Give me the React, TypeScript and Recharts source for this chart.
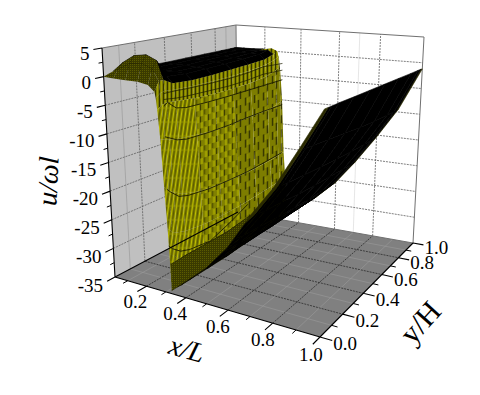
import { Scatter, ScatterChart, XAxis, YAxis } from 'recharts';

// tick values of the three axes
const xTicks = [0.2, 0.4, 0.6, 0.8, 1.0];
const xMinorTicks = [0.1, 0.3, 0.5, 0.7, 0.9];
const yTicks = [0.0, 0.2, 0.4, 0.6, 0.8, 1.0];
const yMinorTicks = [0.1, 0.3, 0.5, 0.7, 0.9];
const uTicks = [5, 0, -5, -10, -15, -20, -25, -30, -35];
const uMinorTicks = [2.5, -2.5, -7.5, -12.5, -17.5, -22.5, -27.5, -32.5];
const xMin = 0.03;

// surface stations
const surfaceY = [0, 0.03, 0.06, 0.12, 0.25, 0.4, 0.55, 0.7, 0.85, 0.94, 0.98, 1];
const surfaceX = [
  0.03, 0.08, 0.14, 0.2, 0.25, 0.28, 0.285, 0.29, 0.3, 0.31, 0.32, 0.325, 0.33,
  0.335, 0.4, 0.5, 0.6, 0.7, 0.8, 0.9, 1.0,
];
const uX03 = [0, 0.3, 0.6, 0.4, 0.3, 0.2, 0.2, 0.2, 0.2, 0.2, 0.2, 0.2];
const uX08 = [0, 1.4, 2.4, 0.8, 0.3, 0.2, 0.2, 0.2, 0.2, 0.2, 0.2, 0.2];
const uX14 = [0.1, 2.8, 4, 0.8, 0.3, 0.2, 0.2, 0.2, 0.2, 0.2, 0.2, 0.2];
const uX20 = [0.2, 3.2, 4.5, 1, 0.3, 0.2, 0.2, 0.2, 0.2, 0.3, 0.4, 0.3];
const uX25 = [0, 2.6, 3.8, 0.6, 0.2, 0.1, 0.1, 0.1, 0.2, 0.5, 0.7, 0.2];
const uX28 = [-1, 0.6, 0.6, -0.4, -0.8, -0.9, -0.9, -0.9, -0.8, -0.2, 0.2, -1.5];
const uX285 = [-2, -1.4, -1.2, -1.5, -1.8, -2, -2.1, -2.1, -1.9, -1.4, -1, -3];
const uX29 = [-4, -3.4, -3.2, -3.5, -4, -4.3, -4.5, -4.5, -4.2, -3.6, -3.2, -5];
const uX30 = [-9, -9.2, -9.6, -10, -10.5, -11, -11, -11, -11, -10.6, -10.2, -10.8];
const uX31 = [-17, -18, -18.6, -19.6, -20.6, -21, -21.3, -21.4, -21.2, -21, -20.8, -21];
const uX32 = [-24, -25, -25.5, -26, -26.6, -26.8, -26.8, -26.6, -26.4, -26.2, -26, -26];
const uX325 = [-28.4, -29, -30, -30.4, -30.6, -30.6, -30.2, -29.8, -29.6, -29.6, -29.6, -29.6];
const uX33 = [-33, -33.4, -33.6, -33.6, -33.6, -33.6, -33.4, -33.2, -33, -33, -33, -33];
const uX335 = [-30, -34.3, -34.4, -34.4, -34.4, -34.4, -34.2, -34, -33.8, -33.8, -33.8, -33.8];
const uX40 = [-27.9, -31.5, -32, -32.1, -32.2, -32.2, -32.2, -32.2, -32.1, -32, -32, -32];
const uX50 = [-25, -27, -28, -28.2, -28.4, -28.6, -28.8, -29, -29, -29, -29, -29];
const uX60 = [-22, -23, -24, -24.3, -24.6, -25, -25.2, -25.4, -25.5, -25.5, -25.5, -25.5];
const uX70 = [-18.5, -18.8, -19, -19.2, -19.5, -20, -20.3, -20.5, -20.7, -20.8, -20.8, -20.8];
const uX80 = [-13, -13.2, -13.4, -13.6, -14, -14.4, -14.8, -15.1, -15.3, -15.4, -15.4, -15.4];
const uX90 = [-6, -6.2, -6.4, -6.6, -7.2, -7.8, -8.4, -8.9, -9.2, -9.4, -9.4, -9.4];
const uX100 = [1.5, 1.4, 1.3, 1.2, 0.8, 0.4, 0, -0.4, -0.8, -1, -1.1, -1.2];
const surfaceU = [
  uX03, uX08, uX14, uX20, uX25, uX28, uX285, uX29, uX30, uX31, uX32, uX325, uX33,
  uX335, uX40, uX50, uX60, uX70, uX80, uX90, uX100,
];

// olive skirt along the y = 0 edge, below the sheet
const skirtX = [0.33, 0.4, 0.5, 0.6, 0.7];
const skirtTop = [-30, -27.9, -25, -22, -18.4];
const skirtBottom = [-34.5, -32.3, -29, -24.6, -18.6];

// dark lines of constant x across the cliff and its rim
const contourY = [0.03, 0.055, 0.11, 0.175, 0.33, 0.5, 0.65, 0.8, 1];
const rimA = [-1.4, -1.4, -1.5, -1.7, -2, -2.2, -2.2, -1.9, -2.4];
const rimB = [-2.4, -2.5, -2.8, -3, -3.3, -3.6, -3.6, -3.4, -3.8];
const contourA = [-3.5, -3.1, -4.5, -5, -5.3, -5.5, -5.6, -5.7, -5.8];
const contourB = [-8.8, -9.2, -10.1, -10.6, -10.9, -11, -10.9, -10.9, -11];
const contourC = [-17.8, -18.6, -20, -20.6, -21.2, -21.4, -21.5, -21.3, -21];
const contourD = [-27.6, -28.4, -29.6, -30.2, -30.8, -29.4, -27.9];

const CUBE = {
  a000: [115, 277], a001: [102, 48],
  a100: [320, 337], a101: [325, 87],
  a010: [238, 212], a011: [236, 25],
  a110: [413, 243], a111: [424, 37],
};

const lerp = (a: number, b: number, t: number) => a + (b - a) * t;

function project(x: number, y: number, u: number) {
  const s = (x - xMin) / (1 - xMin);
  const sw = s * (0.85 + 0.15 * s);
  const t = y * (1 + 0.27 * (1 - y));
  const w = (u + 35) / 40;
  const axis = (i: number) => {
    const f0 = lerp(lerp(CUBE.a000[i], CUBE.a100[i], sw), lerp(CUBE.a010[i], CUBE.a110[i], sw), t);
    const f1 = lerp(lerp(CUBE.a001[i], CUBE.a101[i], sw), lerp(CUBE.a011[i], CUBE.a111[i], sw), t);
    return lerp(f0, f1, w);
  };
  return { px: axis(0), py: axis(1) };
}

type Pt = [number, number, number];
const toRows = (pts: Pt[]) => pts.map(([x, y, u]) => project(x, y, u));
const noDot = () => <g />;

const segPath = (points: { x: number; y: number }[]) => {
  let d = '';
  for (let i = 0; i + 1 < points.length; i += 2) {
    d += `M${points[i].x} ${points[i].y}L${points[i + 1].x} ${points[i + 1].y}`;
  }
  return d;
};

function Poly({ pts, fill = 'none', stroke = 'none', width = 1 }: { pts: Pt[]; fill?: string; stroke?: string; width?: number }) {
  return (
    <Scatter
      data={toRows(pts)}
      isAnimationActive={false}
      shape={noDot}
      line={{ fill, stroke, strokeWidth: width }}
    />
  );
}

function Segs({ pts, stroke, width = 1, dash }: { pts: Pt[]; stroke: string; width?: number; dash?: string }) {
  return (
    <Scatter
      data={toRows(pts)}
      isAnimationActive={false}
      shape={noDot}
      line={(p: any) => (
        <path d={segPath(p.points)} fill="none" stroke={stroke} strokeWidth={width} strokeDasharray={dash} />
      )}
    />
  );
}

function cellFill(x: number, y: number) {
  if (x < 0.28) {
    if (y < 0.06) return 'url(#oliveMesh)';
    if (y >= 0.94 && x >= 0.2) return 'url(#rimMesh)';
    return '#000';
  }
  if (x < 0.29) return 'url(#rimMesh)';
  if (x < 0.335) {
    if (y < 0.25) return 'url(#stripeYellow)';
    if (y < 0.55) return 'url(#stripeMix)';
    return 'url(#stripeDark)';
  }
  if (y < 0.03 || y >= 0.98) return '#2a2a00';
  return '#000';
}

const surfaceRows = surfaceX.flatMap((x, i) => surfaceY.map((y, j) => project(x, y, surfaceU[i][j])));

function renderSurface(p: any) {
  const pts = p.points;
  const ny = surfaceY.length;
  const cells = [];
  for (let i = 0; i < surfaceX.length - 1; i++) {
    for (let j = ny - 2; j >= 0; j--) {
      const a = pts[i * ny + j];
      const b = pts[i * ny + j + 1];
      const c = pts[(i + 1) * ny + j + 1];
      const d = pts[(i + 1) * ny + j];
      const fill = cellFill(surfaceX[i], surfaceY[j]);
      cells.push(
        <path
          key={`${i}-${j}`}
          d={`M${a.x} ${a.y}L${b.x} ${b.y}L${c.x} ${c.y}L${d.x} ${d.y}Z`}
          fill={fill}
          stroke={fill.startsWith('#') ? fill : 'none'}
          strokeWidth={0.6}
        />,
      );
    }
  }
  return (
    <g>
      <defs>
        <pattern id="oliveMesh" width="2" height="2" patternUnits="userSpaceOnUse">
          <rect width="2" height="2" fill="#3a3a00" />
          <rect width="1" height="1" fill="#5a5a00" />
        </pattern>
        <pattern id="rimMesh" width="4" height="5" patternUnits="userSpaceOnUse" patternTransform="skewY(-16)">
          <rect width="4" height="5" fill="#7c7c00" />
          <rect x="1" width="1" height="5" fill="#b0b000" />
          <rect x="3" width="1" height="5" fill="#2c2c00" />
        </pattern>
        <pattern id="stripeYellow" width="4" height="14" patternUnits="userSpaceOnUse" patternTransform="skewX(-8)">
          <rect width="4" height="14" fill="#7e7e00" />
          <rect x="1" width="0.8" height="14" fill="#d0d000" />
          <rect x="3" width="0.8" height="14" fill="#505000" />
          <rect y="9" width="4" height="2" fill="#a0a000" opacity="0.5" />
        </pattern>
        <pattern id="stripeMix" width="8" height="12" patternUnits="userSpaceOnUse" patternTransform="skewY(-16)">
          <rect width="8" height="12" fill="#808000" />
          <rect x="1" width="2" height="6" fill="#a4a400" />
          <rect x="5" y="6" width="2" height="6" fill="#a4a400" />
          <rect x="4" width="1" height="5" fill="#3a3a00" />
          <rect y="6" width="1" height="6" fill="#3a3a00" />
        </pattern>
        <pattern id="stripeDark" width="9" height="14" patternUnits="userSpaceOnUse" patternTransform="skewY(-16)">
          <rect width="9" height="14" fill="#7d7d00" />
          <rect x="2" width="1" height="8" fill="#141400" />
          <rect x="6" y="6" width="1" height="8" fill="#141400" />
          <rect x="4" y="1" width="1" height="5" fill="#9c9c00" />
        </pattern>
      </defs>
      {cells}
    </g>
  );
}

function TickLabels({ pts, labels, anchor, dx, dy }: { pts: Pt[]; labels: string[]; anchor: string; dx: number; dy: number }) {
  const rows = toRows(pts).map((r, i) => ({ ...r, label: labels[i] }));
  return (
    <Scatter
      data={rows}
      isAnimationActive={false}
      shape={(p: any) => (
        <text
          x={p.cx + dx}
          y={p.cy + dy}
          textAnchor={anchor as any}
          dominantBaseline="central"
          fontFamily="Liberation Serif"
          fontSize={19}
          fill="#000"
        >
          {p.payload.label}
        </text>
      )}
    />
  );
}

function Title({ px, py, text, rotate, italic, size }: { px: number; py: number; text: string; rotate: number; italic: boolean; size: number }) {
  return (
    <Scatter
      data={[{ px, py }]}
      isAnimationActive={false}
      shape={(p: any) => (
        <text
          x={p.cx}
          y={p.cy}
          textAnchor="middle"
          dominantBaseline="central"
          fontFamily="Liberation Serif"
          fontStyle={italic ? 'italic' : 'normal'}
          fontSize={size}
          fill="#000"
          transform={`rotate(${rotate} ${p.cx} ${p.cy})`}
        >
          {text}
        </text>
      )}
    />
  );
}

export default function App() {
  const top = 5;
  const bot = -35;
  const gridUOnLeft: Pt[] = uTicks.slice(1, -1).flatMap((u) => [[xMin, 0, u], [xMin, 1, u]] as Pt[]);
  const gridUOnRight: Pt[] = uTicks.slice(1, -1).flatMap((u) => [[xMin, 1, u], [1, 1, u]] as Pt[]);
  const gridYOnLeft: Pt[] = yTicks.slice(1, -1).flatMap((y) => [[xMin, y, bot], [xMin, y, top]] as Pt[]);
  const gridXOnRight: Pt[] = xTicks.slice(0, -1).flatMap((x) => [[x, 1, bot], [x, 1, top]] as Pt[]);
  const gridXFloor: Pt[] = xTicks.slice(0, -1).flatMap((x) => [[x, 0, bot], [x, 1, bot]] as Pt[]);
  const gridYFloor: Pt[] = yTicks.slice(1, -1).flatMap((y) => [[xMin, y, bot], [1, y, bot]] as Pt[]);
  const faintLeft: Pt[] = [0.1, 0.9].flatMap((y) => [[xMin, y, bot], [xMin, y, top]] as Pt[]);
  const faintRight: Pt[] = [[0.7, 1, bot], [0.7, 1, top]];
  const faintFloor: Pt[] = [
    ...xMinorTicks.flatMap((x) => [[x, 0, bot], [x, 1, bot]] as Pt[]),
    ...yMinorTicks.flatMap((y) => [[xMin, y, bot], [1, y, bot]] as Pt[]),
  ];

  const xMajor: Pt[] = xTicks.flatMap((x) => [[x, 0, bot], [x, -0.06, bot]] as Pt[]);
  const xMinor: Pt[] = xMinorTicks.flatMap((x) => [[x, 0, bot], [x, -0.03, bot]] as Pt[]);
  const yMajor: Pt[] = yTicks.flatMap((y) => [[1, y, bot], [1.05, y, bot]] as Pt[]);
  const yMinor: Pt[] = yMinorTicks.flatMap((y) => [[1, y, bot], [1.025, y, bot]] as Pt[]);
  const uMajor: Pt[] = uTicks.flatMap((u) => [[xMin, 0, u], [xMin, -0.05, u]] as Pt[]);
  const uMinor: Pt[] = uMinorTicks.flatMap((u) => [[xMin, 0, u], [xMin, -0.025, u]] as Pt[]);

  const skirt: Pt[] = [
    ...skirtX.map((x, i) => [x, 0, skirtTop[i]] as Pt),
    ...skirtX.map((x, i) => [x, 0, skirtBottom[i]] as Pt).reverse(),
  ];
  const contour = (values: number[]): Pt[] =>
    values.map((u, i) => [0.3, contourY[i], u] as Pt);

  return (
    <div style={{ position: 'absolute', left: 0, top: 0, width: 480, height: 395, background: '#fff' }}>
      <ScatterChart width={480} height={395} margin={{ top: 0, right: 0, bottom: 0, left: 0 }}>
        <XAxis dataKey="px" type="number" domain={[0, 480]} hide allowDataOverflow />
        <YAxis dataKey="py" type="number" domain={[0, 395]} reversed hide allowDataOverflow />

        {/* walls and floor */}
        <Poly pts={[[xMin, 0, bot], [xMin, 0, top], [xMin, 1, top], [xMin, 1, bot], [xMin, 0, bot]]} fill="#c0c0c0" />
        <Poly pts={[[xMin, 1, bot], [xMin, 1, top], [1, 1, top], [1, 1, bot], [xMin, 1, bot]]} fill="#ffffff" />
        <Poly pts={[[xMin, 0, bot], [1, 0, bot], [1, 1, bot], [xMin, 1, bot], [xMin, 0, bot]]} fill="#808080" />

        <Segs pts={faintLeft} stroke="#a0a0a0" width={0.8} />
        <Segs pts={faintRight} stroke="#e0e0e0" width={0.8} />
        <Segs pts={faintFloor} stroke="#9a9a9a" width={0.6} />
        <Segs pts={[...gridUOnLeft, ...gridYOnLeft]} stroke="#606060" width={0.8} dash="2 1" />
        <Segs pts={[...gridUOnRight, ...gridXOnRight]} stroke="#606060" width={0.8} dash="2 1" />
        <Segs pts={[...gridXFloor, ...gridYFloor]} stroke="#2c2c2c" width={0.8} dash="2 1" />

        {/* wall frames */}
        <Segs
          pts={[
            [xMin, 0, top], [xMin, 1, top],
            [xMin, 1, top], [1, 1, top],
            [1, 1, top], [1, 1, bot],
            [xMin, 1, top], [xMin, 1, bot],
            [xMin, 1, bot], [1, 1, bot],
          ]}
          stroke="#707070"
          width={1}
        />

        <Scatter data={surfaceRows} isAnimationActive={false} shape={noDot} line={renderSurface} />
        <Poly pts={skirt} fill="url(#oliveMesh)" stroke="#202000" width={0.6} />

        <Poly pts={contour(rimA)} stroke="#1c1c00" width={0.7} />
        <Poly pts={contour(rimB)} stroke="#1c1c00" width={0.7} />
        <Poly pts={contour(contourA)} stroke="#1c1c00" width={0.9} />
        <Poly pts={contour(contourB)} stroke="#1c1c00" width={0.9} />
        <Poly pts={contour(contourC)} stroke="#1c1c00" width={0.9} />
        <Poly pts={contour(contourD)} stroke="#1c1c00" width={0.9} />

        {/* axes */}
        <Segs
          pts={[
            [xMin, 0, bot], [xMin, 0, top],
            [xMin, 0, bot], [1, 0, bot],
            [1, 0, bot], [1, 1, bot],
            [xMin, 0, bot], [xMin, 1, bot],
            ...xMajor, ...yMajor, ...uMajor,
          ]}
          stroke="#000"
          width={1.1}
        />
        <Segs pts={[...xMinor, ...yMinor, ...uMinor]} stroke="#000" width={1} />

        <TickLabels
          pts={uTicks.map((u) => [xMin, -0.05, u] as Pt)}
          labels={uTicks.map(String)}
          anchor="end"
          dx={-4}
          dy={4}
        />
        <TickLabels
          pts={xTicks.map((x) => [x, -0.06, bot] as Pt)}
          labels={xTicks.map((x) => x.toFixed(1))}
          anchor="middle"
          dx={-2}
          dy={10}
        />
        <TickLabels
          pts={yTicks.map((y) => [1.05, y, bot] as Pt)}
          labels={yTicks.map((y) => y.toFixed(1))}
          anchor="middle"
          dx={13}
          dy={3}
        />

        <Title px={48} py={181} text="u/ωl" rotate={-87} italic size={28} />
        <Title px={187} py={349} text="x/L" rotate={16} italic size={28} />
        <Title px={420} py={322} text="y/H" rotate={-48} italic={false} size={30} />
      </ScatterChart>
    </div>
  );
}
